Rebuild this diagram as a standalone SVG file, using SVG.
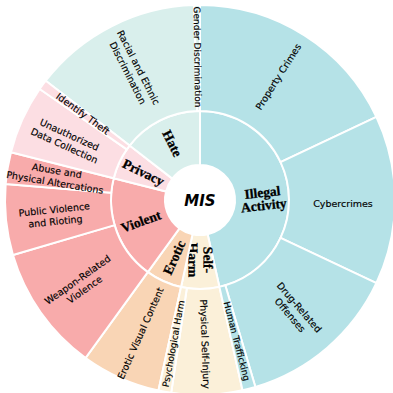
<svg xmlns="http://www.w3.org/2000/svg" width="393" height="393" viewBox="0 0 393 393">
<style>
.seg{stroke:#ffffff;stroke-width:2;stroke-linejoin:round}
.ill{fill:#b5e2e7}
.hat{fill:#d9efec}
.pri{fill:#fcdee3}
.vio{fill:#f8abab}
.ero{fill:#f9d5b5}
.sel{fill:#fbf0d9}
.in{font-family:"Liberation Serif","DejaVu Serif",serif;font-weight:bold;font-size:13.5px;fill:#000;stroke:#000;stroke-width:0.3;text-anchor:middle;dominant-baseline:central}
.out{font-family:"DejaVu Sans","Liberation Sans",sans-serif;font-size:9.5px;fill:#000;stroke:#000;stroke-width:0.15;text-anchor:middle;dominant-baseline:central}
.sm{font-size:9px}
.mis{font-family:"DejaVu Sans",sans-serif;font-weight:bold;font-style:italic;font-size:15px;fill:#000;text-anchor:middle;dominant-baseline:central}
</style>
<rect width="393" height="393" fill="#ffffff"/>
<g id="ring-inner">
<g id="illegal-activity"><path class="seg ill" d="M200,111 A89,89 0 0 1 219.41,286.86 L207.63,234.16 A35,35 0 0 0 200,165 Z"/>
<text class="in" transform="translate(263,198) rotate(-6.3)"><tspan x="0" y="-6">Illegal</tspan><tspan x="0" y="7">Activity</tspan></text></g>
<g id="self-harm"><path class="seg sel" d="M219.41,286.86 A89,89 0 0 1 181.04,286.95 L192.55,234.20 A35,35 0 0 0 207.63,234.16 Z"/>
<text class="in" transform="translate(201,260) rotate(89.85)"><tspan x="0" y="-7.5">Self-</tspan><tspan x="0" y="7.5">Harm</tspan></text></g>
<g id="erotic"><path class="seg ero" d="M181.04,286.95 A89,89 0 0 1 147.81,272.09 L179.48,228.35 A35,35 0 0 0 192.55,234.20 Z"/>
<text class="in" transform="translate(174.3,257.5) rotate(-65.9)">Erotic</text></g>
<g id="violent"><path class="seg vio" d="M147.81,272.09 A89,89 0 0 1 113.72,178.17 L166.07,191.41 A35,35 0 0 0 179.48,228.35 Z"/>
<text class="in" transform="translate(141,221.5) rotate(-19.95)">Violent</text></g>
<g id="privacy"><path class="seg pri" d="M113.72,178.17 A89,89 0 0 1 129.58,145.58 L172.31,178.60 A35,35 0 0 0 166.07,191.41 Z"/>
<text class="in" transform="translate(143.4,172.4) rotate(25.95)">Privacy</text></g>
<g id="hate"><path class="seg hat" d="M129.58,145.58 A89,89 0 0 1 200,111 L200,165 A35,35 0 0 0 172.31,178.60 Z"/>
<text class="in" transform="translate(172.2,143.5) rotate(63.85)">Hate</text></g>
</g>
<g id="ring-outer">
<g id="property-crimes"><path class="seg ill" d="M200,5 A195,195 0 0 1 376.44,116.97 L280.53,162.10 A89,89 0 0 0 200,111 Z"/>
<text class="out" transform="translate(278.2,76.7) rotate(-57.6)">Property Crimes</text></g>
<g id="cybercrimes"><path class="seg ill" d="M376.44,116.97 A195,195 0 0 1 376.44,283.03 L280.53,237.90 A89,89 0 0 0 280.53,162.10 Z"/>
<text class="out" transform="translate(343,203)">Cybercrimes</text></g>
<g id="drug-related-offenses"><path class="seg ill" d="M376.44,283.03 A195,195 0 0 1 255.38,386.97 L225.28,285.33 A89,89 0 0 0 280.53,237.90 Z"/>
<text class="out" transform="translate(295.1,310.8) rotate(49.35)"><tspan x="0" y="-6">Drug-Related</tspan><tspan x="0" y="6">Offenses</tspan></text></g>
<g id="physical-self-injury"><path class="seg sel" d="M242.53,390.30 A195,195 0 0 1 171.18,392.86 L186.85,288.02 A89,89 0 0 0 219.41,286.86 Z"/>
<text class="out" transform="translate(205.2,344) rotate(87.95)">Physical Self-Injury</text></g>
<g id="erotic-visual-content"><path class="seg ero" d="M158.47,390.52 A195,195 0 0 1 85.65,357.95 L147.81,272.09 A89,89 0 0 0 181.04,286.95 Z"/>
<text class="out" transform="translate(140.4,333.3) rotate(-65.9)">Erotic Visual Content</text></g>
<g id="weapon-related-violence"><path class="seg vio" d="M85.65,357.95 A195,195 0 0 1 12.94,255.05 L114.62,225.12 A89,89 0 0 0 147.81,272.09 Z"/>
<text class="out" transform="translate(80.7,284.2) rotate(-35.25)"><tspan x="0" y="-6">Weapon-Related</tspan><tspan x="0" y="6">Violence</tspan></text></g>
<g id="public-violence-and-rioting"><path class="seg vio" d="M12.94,255.05 A195,195 0 0 1 5.66,184.03 L111.30,192.71 A89,89 0 0 0 114.62,225.12 Z"/>
<text class="out" transform="translate(54.8,214.9) rotate(-5.85)"><tspan x="0" y="-6">Public Violence</tspan><tspan x="0" y="6">and Rioting</tspan></text></g>
<g id="abuse-and-physical-altercations"><path class="seg vio" d="M5.66,184.03 A195,195 0 0 1 10.97,152.17 L113.72,178.17 A89,89 0 0 0 111.30,192.71 Z"/>
<text class="out" transform="translate(56,176) rotate(9.45)"><tspan x="0" y="-6">Abuse and</tspan><tspan x="0" y="6">Physical Altercations</tspan></text></g>
<g id="unauthorized-data-collection"><path class="seg pri" d="M10.97,152.17 A195,195 0 0 1 39.69,88.99 L126.83,149.33 A89,89 0 0 0 113.72,178.17 Z"/>
<text class="out" transform="translate(67.1,139.6) rotate(24.45)"><tspan x="0" y="-6">Unauthorized</tspan><tspan x="0" y="6">Data Collection</tspan></text></g>
<g id="racial-and-ethnic-discrimination"><path class="seg hat" d="M45.72,80.76 A195,195 0 0 1 194.21,5.08 L197.36,111.04 A89,89 0 0 0 129.58,145.58 Z"/>
<text class="out" transform="translate(133.7,69.9) rotate(63)"><tspan x="0" y="-6">Racial and Ethnic</tspan><tspan x="0" y="6">Discrimination</tspan></text></g>
<g id="human-trafficking"><path class="seg ill" d="M255.38,386.97 A195,195 0 0 1 242.53,390.30 L219.41,286.86 A89,89 0 0 0 225.28,285.33 Z"/>
<text class="out sm" transform="translate(236.7,341.3) rotate(75.45)">Human Trafficking</text></g>
<g id="psychological-harm"><path class="seg sel" d="M171.18,392.86 A195,195 0 0 1 158.47,390.52 L181.04,286.95 A89,89 0 0 0 186.85,288.02 Z"/>
<text class="out sm" transform="translate(173.6,343.6) rotate(-79.6)">Psychological Harm</text></g>
<g id="identify-theft"><path class="seg pri" d="M39.69,88.99 A195,195 0 0 1 45.72,80.76 L129.58,145.58 A89,89 0 0 0 126.83,149.33 Z"/>
<text class="out" transform="translate(83,113.6) rotate(36.2)">Identify Theft</text></g>
<g id="gender-discrimination"><path class="seg hat" d="M194.21,5.08 A195,195 0 0 1 200,5 L200,111 A89,89 0 0 0 197.36,111.04 Z"/>
<text class="out sm" transform="translate(197.4,57) rotate(89.15)">Gender Discrimination</text></g>
</g>
<g id="center">
<circle cx="200" cy="200" r="35" fill="#ffffff"/>
<text class="mis" x="200" y="201">MIS</text>
</g>
</svg>
